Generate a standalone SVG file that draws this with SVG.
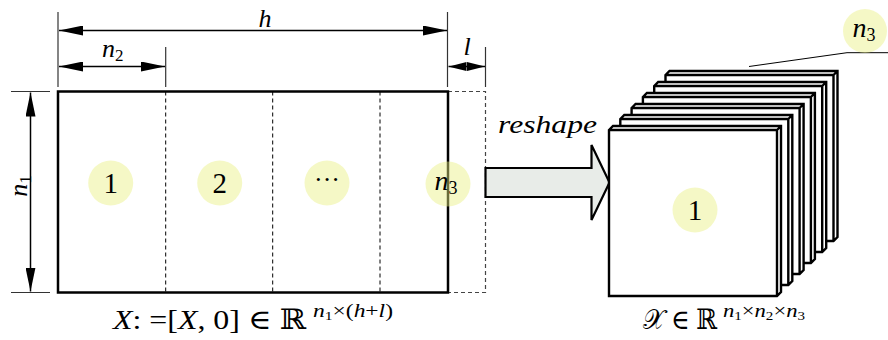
<svg xmlns="http://www.w3.org/2000/svg" width="888" height="340" viewBox="0 0 888 340">
<style>
.dim{stroke:#000;stroke-width:1.5;fill:none}
.ext{stroke:#333;stroke-width:1.2;fill:none}
.dash{stroke:#000;stroke-width:1;stroke-dasharray:4 3;fill:none}
.dashg{stroke:#444;stroke-width:1.2;stroke-dasharray:4 3;fill:none}
.bg{fill:#e8f080;fill-opacity:0.45}
text{font-family:"Liberation Serif","DejaVu Serif",serif;fill:#000}
.i{font-style:italic}
.slab{fill:#fff;stroke:#000;stroke-width:2.4;stroke-linejoin:miter}
</style>
<defs>
<marker id="ah" viewBox="0 0 24 10" refX="24" refY="5" markerWidth="24" markerHeight="10" markerUnits="userSpaceOnUse" orient="auto-start-reverse">
<path d="M0,0 L24,5 L0,10 z" fill="#000"/>
</marker>
<marker id="ahs" viewBox="0 0 18 9" refX="18" refY="4.5" markerWidth="18" markerHeight="9" markerUnits="userSpaceOnUse" orient="auto-start-reverse">
<path d="M0,0 L18,4.5 L0,9 z" fill="#000"/>
</marker>
</defs>

<g id="matrix">
<rect x="448" y="91.5" width="37.5" height="201" class="dashg"/>
<line x1="165.7" y1="91.5" x2="165.7" y2="292.5" class="dash"/>
<line x1="272.7" y1="91.5" x2="272.7" y2="292.5" class="dash"/>
<line x1="380" y1="91.5" x2="380" y2="292.5" class="dash"/>
<rect x="58" y="91.5" width="390" height="201" fill="none" stroke="#000" stroke-width="2.5"/>
</g>

<g id="dimensions">
<line x1="58" y1="12" x2="58" y2="87" class="ext"/>
<line x1="447.5" y1="12" x2="447.5" y2="87" class="ext"/>
<line x1="165.7" y1="47" x2="165.7" y2="87" class="ext"/>
<line x1="485.5" y1="47" x2="485.5" y2="87" class="ext"/>
<line x1="59" y1="30.5" x2="447" y2="30.5" class="dim" marker-start="url(#ah)" marker-end="url(#ah)"/>
<line x1="59" y1="66.5" x2="165" y2="66.5" class="dim" marker-start="url(#ah)" marker-end="url(#ah)"/>
<line x1="448.5" y1="66.5" x2="485" y2="66.5" class="dim" marker-start="url(#ahs)" marker-end="url(#ahs)"/>
<line x1="11" y1="91.5" x2="50" y2="91.5" class="ext"/>
<line x1="11" y1="292.5" x2="50" y2="292.5" class="ext"/>
<line x1="30.5" y1="92.5" x2="30.5" y2="291.5" class="dim" marker-start="url(#ah)" marker-end="url(#ah)"/>
<text x="265" y="27" class="i" font-size="26" text-anchor="middle">h</text>
<text x="102" y="57" font-size="26"><tspan class="i">n</tspan><tspan font-size="17" dy="4">2</tspan></text>
<text x="467" y="55" class="i" font-size="26" text-anchor="middle">l</text>
<text transform="translate(27,186) rotate(-90)" font-size="26" text-anchor="middle"><tspan class="i">n</tspan><tspan font-size="17" dy="4">1</tspan></text>
</g>

<g id="label-1">
<circle cx="110.7" cy="183" r="22.5" class="bg"/>
<text x="110.7" y="193" font-size="29" text-anchor="middle">1</text>
</g>
<g id="label-2">
<circle cx="219.7" cy="183" r="22.5" class="bg"/>
<text x="219.7" y="193" font-size="29" text-anchor="middle">2</text>
</g>
<g id="label-dots">
<circle cx="327" cy="183" r="22.5" class="bg"/>
<text x="327" y="188" font-size="26" text-anchor="middle">···</text>
</g>
<g id="label-n3">
<circle cx="448" cy="184" r="22.5" class="bg"/>
<text x="446" y="190" font-size="28" text-anchor="middle"><tspan class="i">n</tspan><tspan font-size="18" dy="4">3</tspan></text>
</g>

<g id="connectors">
<path d="M485.5,168 L591.5,168 L591.5,145 L609.5,182.5 L591.5,220 L591.5,197 L485.5,197 Z" fill="#e8ece8" stroke="#000" stroke-width="2.2" stroke-linejoin="miter"/>
<text x="498" y="133" class="i" font-size="25" textLength="99" lengthAdjust="spacingAndGlyphs">reshape</text>
<polyline points="749,66.5 847,52.7 888,52.7" fill="none" stroke="#000" stroke-width="1"/>
</g>

<g id="tensor">
<g id="slab-6"><path class="slab" d="M665.5,75 L669.5,71 L837.5,71 L837.5,237 L833.5,241 L665.5,241 Z M665.5,75 L833.5,75 L833.5,241 M833.5,75 L837.5,71"/></g>
<g id="slab-5"><path class="slab" d="M654.2,86 L658.2,82 L826.2,82 L826.2,248 L822.2,252 L654.2,252 Z M654.2,86 L822.2,86 L822.2,252 M822.2,86 L826.2,82"/></g>
<g id="slab-4"><path class="slab" d="M642.9,97 L646.9,93 L814.9,93 L814.9,259 L810.9,263 L642.9,263 Z M642.9,97 L810.9,97 L810.9,263 M810.9,97 L814.9,93"/></g>
<g id="slab-3"><path class="slab" d="M631.6,108 L635.6,104 L803.6,104 L803.6,270 L799.6,274 L631.6,274 Z M631.6,108 L799.6,108 L799.6,274 M799.6,108 L803.6,104"/></g>
<g id="slab-2"><path class="slab" d="M620.3,119 L624.3,115 L792.3,115 L792.3,281 L788.3,285 L620.3,285 Z M620.3,119 L788.3,119 L788.3,285 M788.3,119 L792.3,115"/></g>
<g id="slab-1"><path class="slab" d="M609,130 L613,126 L781,126 L781,292 L777,296 L609,296 Z M609,130 L777,130 L777,296 M777,130 L781,126"/></g>
<circle cx="695" cy="210" r="22.5" class="bg"/>
<text x="695" y="220" font-size="29" text-anchor="middle">1</text>
</g>

<g id="label-n3-top">
<circle cx="865" cy="31" r="22" class="bg"/>
<text x="864" y="37" font-size="28" text-anchor="middle"><tspan class="i">n</tspan><tspan font-size="18" dy="4">3</tspan></text>
</g>

<g id="caption-left">
<text x="113" y="329" font-size="28" textLength="193" lengthAdjust="spacingAndGlyphs"><tspan class="i">X</tspan>: =[<tspan class="i">X</tspan>, 0] ∈ ℝ</text>
<text x="313" y="317" font-size="18" textLength="80" lengthAdjust="spacingAndGlyphs"><tspan class="i">n</tspan><tspan font-size="12" dy="3">1</tspan><tspan dy="-3">×(</tspan><tspan class="i">h</tspan>+<tspan class="i">l</tspan>)</text>
</g>
<g id="caption-right">
<text x="643" y="329" font-size="28" textLength="74" lengthAdjust="spacingAndGlyphs"><tspan style="font-family:'DejaVu Serif','DejaVu Sans',serif">𝒳</tspan> ∈ ℝ</text>
<text x="723" y="317" font-size="18" textLength="82" lengthAdjust="spacingAndGlyphs"><tspan class="i">n</tspan><tspan font-size="12" dy="3">1</tspan><tspan dy="-3">×</tspan><tspan class="i">n</tspan><tspan font-size="12" dy="3">2</tspan><tspan dy="-3">×</tspan><tspan class="i">n</tspan><tspan font-size="12" dy="3">3</tspan></text>
</g>
</svg>
